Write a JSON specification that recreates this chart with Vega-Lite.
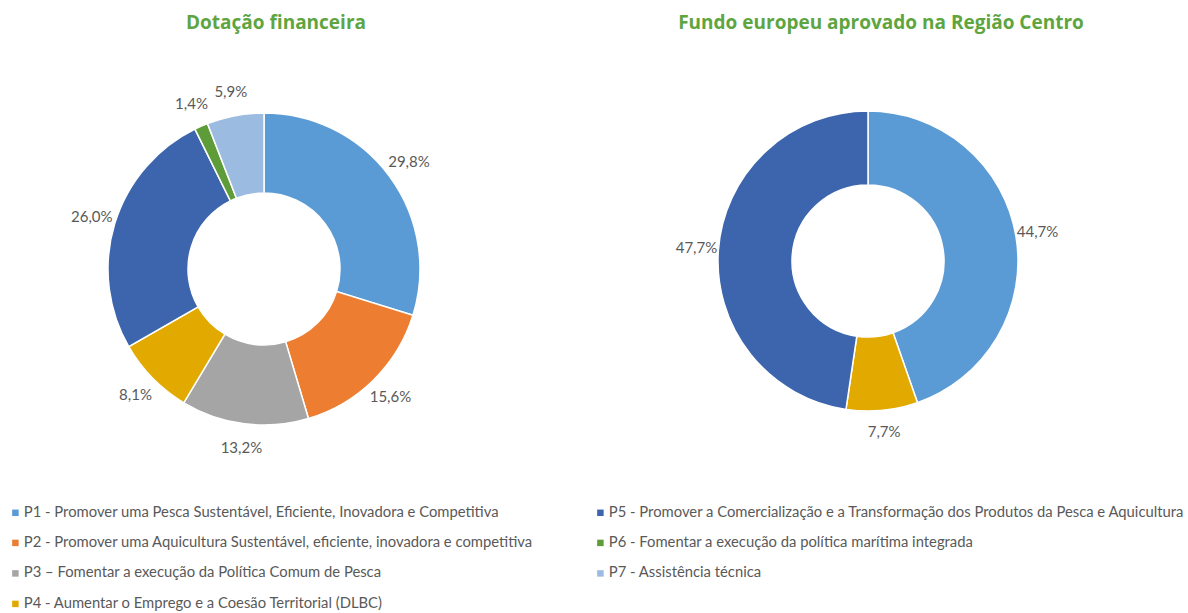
{
  "$schema": "https://vega.github.io/schema/vega-lite/v6.json",
  "padding": {"left": 0, "top": 14, "right": 0, "bottom": 0},
  "background": "white",
  "config": {
    "view": {"stroke": null},
    "locale": {"number": {"decimal": ",", "thousands": ".", "grouping": [3], "currency": ["", " €"]}},
    "title": {"font": "Open Sans", "fontSize": 19, "fontWeight": "bold", "color": "#5EA53F", "offset": 15}
  },
  "datasets": {
    "dotacao": [
      {"eixo": "P1 - Promover uma Pesca Sustentável, Eficiente, Inovadora e Competitiva", "ord": 1, "valor": 0.298},
      {"eixo": "P2 - Promover uma Aquicultura Sustentável, eficiente, inovadora e competitiva", "ord": 2, "valor": 0.156},
      {"eixo": "P3 – Fomentar a execução da Política Comum de Pesca", "ord": 3, "valor": 0.132},
      {"eixo": "P4 - Aumentar o Emprego e a Coesão Territorial (DLBC)", "ord": 4, "valor": 0.081},
      {"eixo": "P5 - Promover a Comercialização e a Transformação dos Produtos da Pesca e Aquicultura", "ord": 5, "valor": 0.260},
      {"eixo": "P6 - Fomentar a execução da política marítima integrada", "ord": 6, "valor": 0.014},
      {"eixo": "P7 - Assistência técnica", "ord": 7, "valor": 0.059}
    ],
    "fundo": [
      {"eixo": "P1 - Promover uma Pesca Sustentável, Eficiente, Inovadora e Competitiva", "ord": 1, "valor": 0.447},
      {"eixo": "P4 - Aumentar o Emprego e a Coesão Territorial (DLBC)", "ord": 4, "valor": 0.077},
      {"eixo": "P5 - Promover a Comercialização e a Transformação dos Produtos da Pesca e Aquicultura", "ord": 5, "valor": 0.477}
    ]
  },
  "spacing": 76,
  "hconcat": [
    {
      "title": {"text": "Dotação financeira", "dx": 12},
      "width": 528,
      "height": 442,
      "data": {"name": "dotacao"},
      "encoding": {
        "theta": {"field": "valor", "type": "quantitative", "stack": true},
        "order": {"field": "ord", "type": "quantitative"}
      },
      "layer": [
        {
          "mark": {"type": "arc", "outerRadius": 156, "innerRadius": 76, "stroke": "white", "strokeWidth": 1.5},
          "encoding": {
            "color": {
              "field": "eixo", "type": "nominal",
              "scale": {
                "domain": [
                  "P1 - Promover uma Pesca Sustentável, Eficiente, Inovadora e Competitiva",
                  "P2 - Promover uma Aquicultura Sustentável, eficiente, inovadora e competitiva",
                  "P3 – Fomentar a execução da Política Comum de Pesca",
                  "P4 - Aumentar o Emprego e a Coesão Territorial (DLBC)",
                  "P5 - Promover a Comercialização e a Transformação dos Produtos da Pesca e Aquicultura",
                  "P6 - Fomentar a execução da política marítima integrada",
                  "P7 - Assistência técnica"
                ],
                "range": ["#5B9BD5", "#ED7D31", "#A5A5A5", "#E2AA00", "#3C65AD", "#5E9C3A", "#9CBBE1"]
              },
              "legend": {
                "title": null,
                "orient": "none",
                "legendX": 8,
                "legendY": 457,
                "columns": 2,
                "columnPadding": 60,
                "rowPadding": 14.5,
                "symbolType": "square",
                "symbolSize": 42,
                "symbolStrokeWidth": 0,
                "labelOffset": 1,
                "labelFont": "Lato",
                "labelFontSize": 14.8,
                "labelColor": "#595959",
                "labelLimit": 800
              }
            }
          }
        },
        {
          "mark": {"type": "text", "radius": 180, "font": "Lato", "fontSize": 15, "color": "#595959"},
          "encoding": {
            "text": {"field": "valor", "type": "quantitative", "format": ".1%"}
          }
        }
      ]
    },
    {
      "title": {"text": "Fundo europeu aprovado na Região Centro", "dx": 13},
      "width": 528,
      "height": 426,
      "data": {"name": "fundo"},
      "encoding": {
        "theta": {"field": "valor", "type": "quantitative", "stack": true},
        "order": {"field": "ord", "type": "quantitative"}
      },
      "layer": [
        {
          "mark": {"type": "arc", "outerRadius": 150, "innerRadius": 76, "stroke": "white", "strokeWidth": 1.5},
          "encoding": {
            "color": {"field": "eixo", "type": "nominal"}
          }
        },
        {
          "mark": {"type": "text", "radius": 172, "font": "Lato", "fontSize": 15, "color": "#595959"},
          "encoding": {
            "text": {"field": "valor", "type": "quantitative", "format": ".1%"}
          }
        }
      ]
    }
  ]
}
